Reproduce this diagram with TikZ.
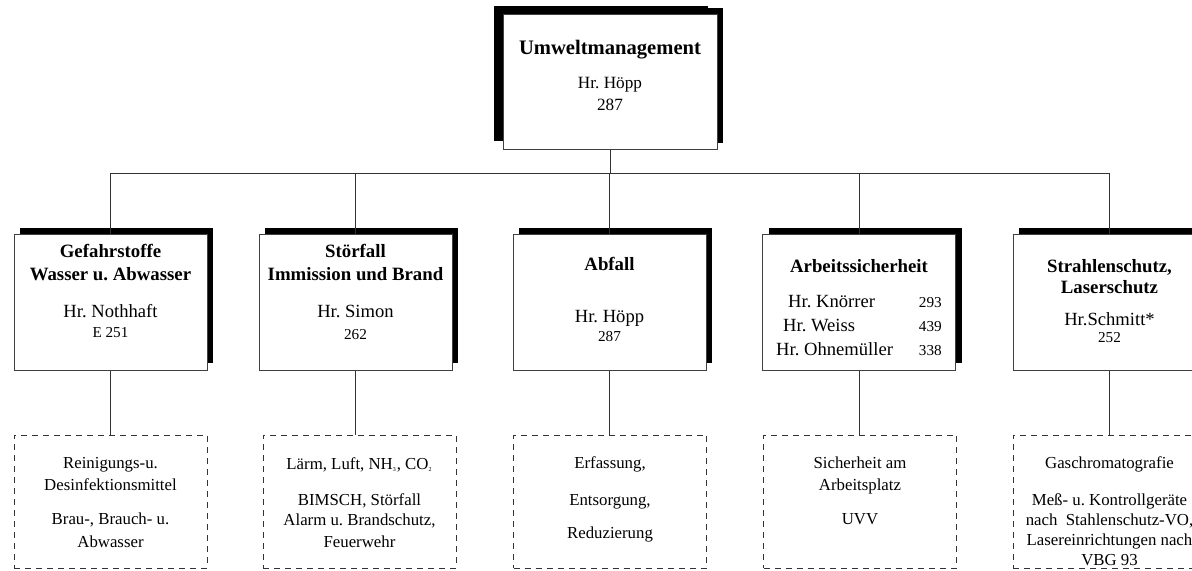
\documentclass[tikz,border=0pt]{standalone}
\usepackage{fontspec}
\setmainfont{Liberation Serif}
\usetikzlibrary{shadows,positioning,calc}
\frenchspacing

\newcommand{\hd}{\fontsize{9.4}{11}\bfseries\selectfont}
\newcommand{\nm}{\fontsize{9.3}{11}\selectfont}
\newcommand{\nr}{\fontsize{7.6}{11}\selectfont}
\newcommand{\tinysub}[1]{\textsubscript{\fontsize{3}{3}\selectfont #1}}

\begin{document}
\begin{tikzpicture}[x=0.5pt,y=-0.5pt,
  box/.style={draw=black!75,line width=0.5pt,fill=white,inner sep=0pt,
    minimum width=96.5pt,minimum height=67.5pt,
    general shadow={fill=black,shadow xshift=3pt,shadow yshift=3.5pt}},
  topbox/.style={box,minimum width=107pt,
    general shadow={fill=black,shadow xshift=-4.5pt,shadow yshift=4.5pt}},
  dbox/.style={draw=black!80,line width=0.5pt,dash pattern=on 3pt off 2.5pt,
    inner sep=0pt,minimum width=96.5pt,minimum height=66.5pt},
  txt/.style={align=center,inner sep=0pt,anchor=base,font=\nm},
  dtxt/.style={txt,font=\fontsize{8.4}{11}\selectfont},
  conn/.style={draw=black!80,line width=0.5pt}]
\useasboundingbox (0,0) rectangle (1192,571);

% Boxes
\node[topbox] (top) at (610,82.5) {};
\foreach \i/\x in {1/110.5,2/355.5,3/609.5,4/859,5/1109.5}
  \node[box] (b\i) at (\x,302.5) {};
\foreach \i/\x in {1/110.5,2/359.5,3/610,4/860,5/1109.5}
  \node[dbox] (d\i) at (\x,501.5) {};

% Texts (placed at the baseline of their last line)
\node[txt] (top-t) at ([yshift=-48pt]top.north)
  {{\fontsize{10.3}{11}\bfseries\selectfont Umweltmanagement}\\[6pt]
   {\fontsize{8.6}{11}\selectfont Hr. Höpp}\\{\fontsize{8.6}{11}\selectfont 287}};
\node[txt] (b1-t) at ([yshift=-51.5pt]b1.north)
  {{\hd Gefahrstoffe}\\[0.5pt]{\hd Wasser u. Abwasser}\\[7.5pt]Hr. Nothhaft\\[-1pt]{\nr E 251}};
\node[txt] (b2-t) at ([yshift=-52.5pt]b2.north)
  {{\hd Störfall}\\[0.5pt]{\hd Immission und Brand}\\[7.5pt]Hr. Simon\\{\nr 262}};
\node[txt] (b3-t) at ([yshift=-53.5pt]b3.north)
  {{\hd Abfall}\\[15pt]Hr. Höpp\\[-1.5pt]{\nr 287}};
\node[txt] (b4-t) at ([yshift=-36.5pt]b4.north)
  {{\hd Arbeitssicherheit}\\[6.5pt]
   {\fontsize{9.3}{12}\selectfont\begin{tabular}[t]{@{}l@{\hspace{13pt}}r@{}}
     \hspace{6pt}Hr. Knörrer & {\nr 293}\\
     \hspace{3.5pt}Hr. Weiss & {\nr 439}\\
     Hr. Ohnemüller & {\nr 338}
   \end{tabular}}};
\node[txt] (b5-t) at ([yshift=-54pt]b5.north)
  {{\hd Strahlenschutz,}\\[-0.5pt]{\hd Laserschutz}\\[5pt]Hr.Schmitt*\\[-2.5pt]{\nr 252}};

\node[dtxt] (d1-t) at ([yshift=-56.5pt]d1.north)
  {Reinigungs-u.\\Desinfektionsmittel\\[6pt]Brau-, Brauch- u.\\[0.5pt]Abwasser};
\node[dtxt] (d2-t) at ([yshift=-56.5pt]d2.north)
  {Lärm, Luft, NH\tinysub{3}, CO\tinysub{2}\\[7pt]BIMSCH, Störfall\\[-1pt]Alarm u. Brandschutz,\\Feuerwehr};
\node[dtxt] (d3-t) at ([yshift=-52pt]d3.north)
  {Erfassung,\\[7.5pt]Entsorgung,\\[5.5pt]Reduzierung};
\node[dtxt] (d4-t) at ([yshift=-45pt]d4.north)
  {Sicherheit am\\Arbeitsplatz\\[6pt]UVV};
\node[dtxt] (d5-t) at ([yshift=-65.5pt]d5.north)
  {Gaschromatografie\\[7.5pt]Meß- u. Kontrollgeräte\\[-1pt]nach~~Stahlenschutz-VO,\\[-1pt]Lasereinrichtungen nach\\[-1pt]VBG 93};

% Lines
\coordinate (bus) at (610,174);
\foreach \i in {1,...,5}
  \draw[conn] (top.south) |- (b\i.north |- bus) -- (b\i.north);
\foreach \i in {1,...,5}
  \draw[conn] (b\i.south) -- (b\i.south |- d\i.north);

\end{tikzpicture}
\end{document}
